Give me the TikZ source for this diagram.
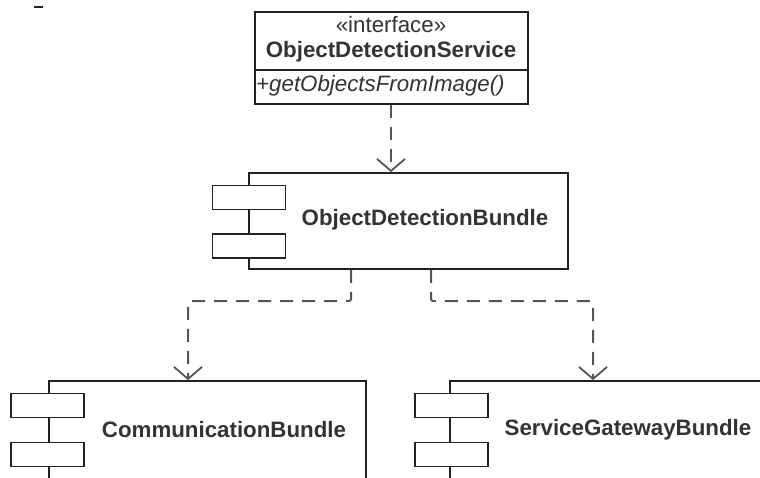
\documentclass[tikz,border=0pt]{standalone}
\usepackage{fontspec}
\setmainfont{Liberation Sans}
\usetikzlibrary{arrows.meta}
\definecolor{ink}{HTML}{222222}
\definecolor{txt}{HTML}{333333}
\definecolor{dashc}{HTML}{555555}
\begin{document}
\begin{tikzpicture}[x=1pt,y=-1pt,
  box/.style={draw=ink, line width=1.8pt, fill=white, inner sep=0pt, rectangle},
  tab/.style={draw=ink, line width=1.8pt, fill=white, inner sep=0pt, rectangle, minimum width=73pt, minimum height=24pt},
  lbl/.style={text=txt, inner sep=0pt, font=\fontsize{22.3}{26}\selectfont\bfseries},
  plain/.style={text=txt, inner sep=0pt, font=\fontsize{22.3}{26}\selectfont},
  dep/.style={draw=dashc, line width=2pt, dash pattern=on 13pt off 9pt, rounded corners=2pt,
    -{Straight Barb[length=12pt,width=28pt,line width=1.8pt]}}
]
\useasboundingbox (0,0) rectangle (760,477);
\clip (0,0) rectangle (760,477);
% small stray mark
\draw[ink, line width=2pt] (34,7) -- (43,7);
% interface
\node[box, minimum width=273pt, minimum height=92pt] (iface) at (391.5,58) {};
\draw[ink, line width=1.8pt] (iface.west |- 0,70) -- (iface.east |- 0,70);
\node[plain] (stereo) at (391,25) {«interface»};
\node[lbl] (ifname) at (391,52) {ObjectDetectionService};
\node[plain, anchor=west, font=\fontsize{22.3}{26}\selectfont\itshape] (op) at (256,86) {+getObjectsFromImage()};
% ObjectDetectionBundle
\node[box, minimum width=319pt, minimum height=96pt] (odb) at (408.5,221) {};
\node[tab] (odbt1) at (249,197.5) {};
\node[tab] (odbt2) at (249,246) {};
\node[lbl] (odbl) at (425,220) {ObjectDetectionBundle};
% CommunicationBundle
\node[box, minimum width=317pt, minimum height=104pt] (cb) at (207.5,433) {};
\node[tab] (cbt1) at (47.5,405.5) {};
\node[tab] (cbt2) at (47.5,454.5) {};
\node[lbl] (cbl) at (224,430) {CommunicationBundle};
% ServiceGatewayBundle
\node[box, minimum width=319pt, minimum height=104pt] (sgb) at (609.5,433) {};
\node[tab] (sgbt1) at (451.5,405.5) {};
\node[tab] (sgbt2) at (451.5,454.5) {};
\node[lbl] (sgbl) at (628,430) {ServiceGatewayBundle};
% connectors
\draw[dep] (iface.south -| 391,0) -- (odb.north -| 391,0);
\draw[dep] (odb.south -| 351,0) -- (351,301) -- (188,301) -- (cb.north -| 188,0);
\draw[dep] (odb.south -| 431,0) -- (431,301) -- (593,301) -- (sgb.north -| 593,0);
\end{tikzpicture}
\end{document}
